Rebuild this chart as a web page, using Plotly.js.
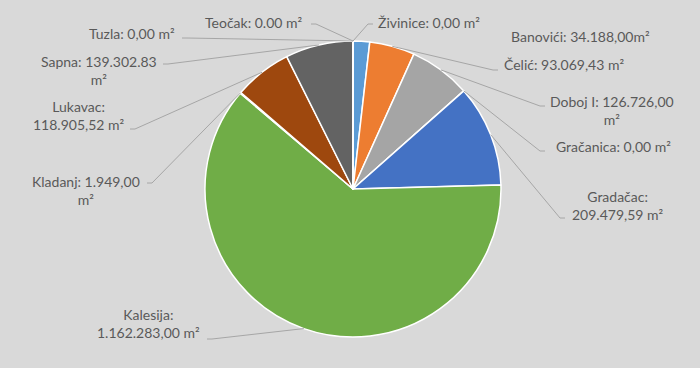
<!DOCTYPE html>
<html>
<head>
<meta charset="utf-8">
<script src="https://cdn.plot.ly/plotly-3.0.1.min.js"></script>
<style>html,body{margin:0;padding:0;background:#D9D9D9;}#chart{width:700px;height:368px;}</style>
</head>
<body>
<div id="chart"></div>
<script>
// ---- data ----
const municipalities = ["Banovići","Čelić","Doboj I","Gračanica","Gradačac","Kalesija","Kladanj","Lukavac","Sapna","Teočak","Tuzla","Živinice"];
const areas = [34188.00, 93069.43, 126726.00, 0, 209479.59, 1162283.00, 1949.00, 118905.52, 139302.83, 0, 0, 0];
const labelTexts = [
  "Banovići: 34.188,00m²",
  "Čelić: 93.069,43 m²",
  "Doboj I: 126.726,00<br>m²",
  "Gračanica: 0,00 m²",
  "Gradačac:<br>209.479,59 m²",
  "Kalesija:<br>1.162.283,00 m²",
  "Kladanj: 1.949,00<br>m²",
  "Lukavac:<br>118.905,52 m²",
  "Sapna: 139.302.83<br>m²",
  "Teočak: 0.00 m²",
  "Tuzla: 0,00 m²",
  "Živinice: 0,00 m²"
];
const colors = ["#5B9BD5","#ED7D31","#A5A5A5","#FFC000","#4472C4","#70AD47","#255E91","#9E480E","#636363","#997300","#264478","#43682B"];

// ---- layout positions (pixels) ----
const W = 700, H = 368;
const CX = 353, CY = 189, R = 148;
// label block centre, and leader start point (null = no leader)
const labelPos = [
  {x:580, y:36,  lead:null},
  {x:564, y:65,  lead:[498,70]},
  {x:612, y:110, lead:[545,106]},
  {x:613, y:146, lead:[545,151]},
  {x:618, y:205, lead:[565,218]},
  {x:148, y:323, lead:[207,339]},
  {x:86,  y:190, lead:[147,183]},
  {x:79,  y:115, lead:[130,129]},
  {x:99,  y:70,  lead:[163,64]},
  {x:253, y:22,  lead:[311,24]},
  {x:132, y:33,  lead:[182,38]},
  {x:429, y:22,  lead:[373,24]}
];

const px = x => x / W;
const py = y => 1 - y / H;

const total = areas.reduce((a,b)=>a+b,0);
let cum = 0;
const shapes = [];
const annotations = [];
areas.forEach((v,i)=>{
  const mid = (cum + v/2) / total * 2*Math.PI;
  cum += v;
  const tx = CX + R*Math.sin(mid);
  const ty = CY - R*Math.cos(mid);
  const lp = labelPos[i];
  annotations.push({
    x: px(lp.x), y: py(lp.y), xref:'paper', yref:'paper',
    text: labelTexts[i], showarrow:false, xanchor:'center', yanchor:'middle',
    align:'center', font:{family:'Lato, sans-serif', size:14, color:'#595959'}
  });
  if (lp.lead) {
    const [lx, ly] = lp.lead;
    const dir = tx > lx ? 1 : -1;
    const sx = lx + dir*5;
    shapes.push({
      type:'path', xref:'paper', yref:'paper',
      path:`M ${px(lx)},${py(ly)} L ${px(sx)},${py(ly)} L ${px(tx)},${py(ty)}`,
      line:{color:'#A6A6A6', width:1}
    });
  }
});

const trace = {
  type:'pie',
  labels: municipalities,
  values: areas,
  sort:false,
  direction:'clockwise',
  rotation:0,
  textinfo:'none',
  textposition:'none',
  hoverinfo:'label+value',
  marker:{colors:colors, line:{color:'#FFFFFF', width:1.5}},
  domain:{x:[(CX-R)/W,(CX+R)/W], y:[(H-CY-R)/H,(H-CY+R)/H]},
  automargin:false,
  showlegend:false
};

const layout = {
  width:W, height:H,
  margin:{l:0,r:0,t:0,b:0},
  paper_bgcolor:'#D9D9D9',
  plot_bgcolor:'#D9D9D9',
  showlegend:false,
  shapes: shapes,
  annotations: annotations
};

Plotly.newPlot('chart',[trace],layout,{displayModeBar:false, staticPlot:true});
</script>
</body>
</html>
